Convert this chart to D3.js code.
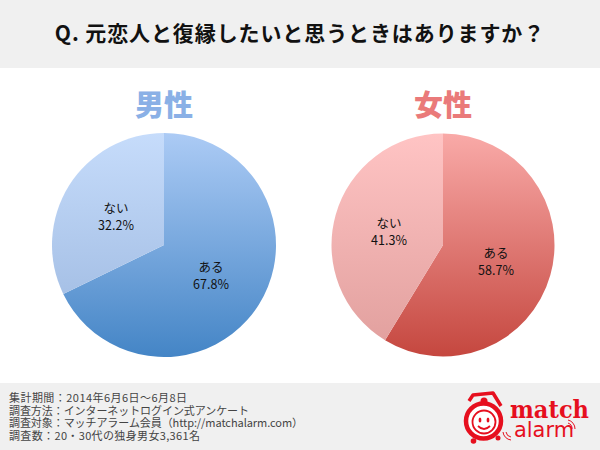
<!DOCTYPE html>
<html>
<head>
<meta charset="utf-8">
<script src="https://cdn.jsdelivr.net/npm/d3@7"></script>
<style>
  html, body { margin: 0; padding: 0; background: #fff; }
  svg { display: block; }
  text { font-family: "Noto Sans CJK JP", sans-serif; }
</style>
</head>
<body>
<div id="chart"></div>
<script>
const titleText = "Q. 元恋人と復縁したいと思うときはありますか？";
const answers = ["ある", "ない"];
const maleValues = [67.8, 32.2];
const femaleValues = [58.7, 41.3];
const noteLines = [
  "集計期間：2014年6月6日〜6月8日",
  "調査方法：インターネットログイン式アンケート",
  "調査対象：マッチアラーム会員（http://matchalarm.com）",
  "調査数：20・30代の独身男女3,361名"
];
const noteWidths = [178, 240, 294, 191];

const width = 600, height = 450;
const svg = d3.select("#chart").append("svg")
  .attr("width", width)
  .attr("height", height);
const defs = svg.append("defs");

// header and footer bands
svg.append("rect").attr("width", width).attr("height", 68).attr("fill", "#f0f0f0");
svg.append("rect").attr("y", 383).attr("width", width).attr("height", 67).attr("fill", "#f0f0f0");

svg.append("text")
  .attr("x", 300).attr("y", 41)
  .attr("text-anchor", "middle")
  .attr("font-size", 21)
  .attr("font-weight", 700)
  .attr("letter-spacing", 0.9)
  .attr("fill", "#111")
  .text(titleText);

function addGradient(id, top, bottom, y1, y2) {
  const g = defs.append("linearGradient")
    .attr("id", id)
    .attr("gradientUnits", "userSpaceOnUse")
    .attr("x1", 0).attr("x2", 0).attr("y1", y1).attr("y2", y2);
  g.append("stop").attr("offset", 0).attr("stop-color", top);
  g.append("stop").attr("offset", 1).attr("stop-color", bottom);
}

const pie = d3.pie().sort(null).value(d => d);

function drawPie(cfg) {
  const g = svg.append("g").attr("transform", `translate(${cfg.cx},${cfg.cy})`);
  const arc = d3.arc().innerRadius(0).outerRadius(cfg.r);
  addGradient(cfg.id + "0", cfg.yesColors[0], cfg.yesColors[1], -cfg.r, cfg.r);
  addGradient(cfg.id + "1", cfg.noColors[0], cfg.noColors[1], -cfg.r, cfg.r);

  g.selectAll("path")
    .data(pie(cfg.values))
    .join("path")
    .attr("d", arc)
    .attr("fill", (d, i) => `url(#${cfg.id}${i})`);

  svg.append("text")
    .attr("x", cfg.cx).attr("y", 116)
    .attr("text-anchor", "middle")
    .attr("font-size", 29)
    .attr("font-weight", 900)
    .attr("fill", cfg.titleColor)
    .text(cfg.title);

  cfg.values.forEach((v, i) => {
    const t = svg.append("text")
      .attr("text-anchor", "middle")
      .attr("font-size", 12.5)
      .attr("fill", "#111");
    t.append("tspan").attr("x", cfg.labels[i][0]).attr("y", cfg.labels[i][1]).text(answers[i]);
    t.append("tspan").attr("x", cfg.labels[i][0]).attr("y", cfg.labels[i][1] + 16.5).text(v.toFixed(1) + "%");
  });
}

drawPie({
  id: "male", title: "男性", titleColor: "#8ab0e6",
  cx: 164, cy: 245, r: 112, values: maleValues,
  yesColors: ["#accbf5", "#4485c6"], noColors: ["#c6dcfb", "#9ab6de"],
  labels: [[211, 272], [116, 213]]
});
drawPie({
  id: "female", title: "女性", titleColor: "#ea7a7a",
  cx: 443, cy: 245, r: 111.5, values: femaleValues,
  yesColors: ["#f9aaa8", "#c5473f"], noColors: ["#ffc4c4", "#e09e9c"],
  labels: [[496, 258], [389, 228]]
});

// survey notes
svg.append("g").selectAll("text")
  .data(noteLines)
  .join("text")
  .attr("x", 9)
  .attr("y", (d, i) => 402 + i * 12.5)
  .attr("font-size", 11)
  .attr("fill", "#444")
  .attr("textLength", (d, i) => noteWidths[i])
  .attr("lengthAdjust", "spacing")
  .text(d => d);

// logo
const red = "#e60f1e";
const logo = svg.append("g").attr("transform", "translate(450,375)");
logo.append("path")
  .attr("d", "M19 26 L23 20 L43 18 L51 31")
  .attr("fill", "none").attr("stroke", red).attr("stroke-width", 3.5).attr("stroke-linejoin", "round");
logo.append("circle").attr("cx", 34).attr("cy", 26).attr("r", 3.5).attr("fill", red);
logo.append("circle").attr("cx", 33.5).attr("cy", 46).attr("r", 17.5)
  .attr("fill", "#fff").attr("stroke", red).attr("stroke-width", 4.5);
logo.append("circle").attr("cx", 34).attr("cy", 47).attr("r", 11.5)
  .attr("fill", "#fff").attr("stroke", red).attr("stroke-width", 1.8);
logo.append("ellipse").attr("cx", 30).attr("cy", 45).attr("rx", 1.4).attr("ry", 2.6).attr("fill", red);
logo.append("ellipse").attr("cx", 38).attr("cy", 45).attr("rx", 1.4).attr("ry", 2.6).attr("fill", red);
logo.append("path").attr("d", "M28 51 Q34 57 40 51")
  .attr("fill", "none").attr("stroke", red).attr("stroke-width", 1.8);
logo.append("circle").attr("cx", 23.5).attr("cy", 66).attr("r", 2.8).attr("fill", red);
logo.append("circle").attr("cx", 48).attr("cy", 63).attr("r", 2.5).attr("fill", red);

logo.append("text").attr("x", 60).attr("y", 43)
  .attr("font-size", 24).attr("font-weight", 700)
  .style("font-family", "'DejaVu Serif', serif")
  .attr("textLength", 79).attr("lengthAdjust", "spacingAndGlyphs")
  .attr("fill", red).text("match");
logo.append("text").attr("x", 64).attr("y", 62)
  .attr("font-size", 22).attr("font-weight", 400)
  .style("font-family", "'DejaVu Sans', sans-serif")
  .attr("textLength", 60).attr("lengthAdjust", "spacingAndGlyphs")
  .attr("fill", red).text("alarm");
[[60, 55, 4], [60, 55, 7]].forEach(d => {
  logo.append("path")
    .attr("d", `M${d[0] - d[2]} ${d[1] + 2} A${d[2] + 2} ${d[2] + 2} 0 0 0 ${d[0] + 1} ${d[1] + d[2] + 3}`)
    .attr("fill", "none").attr("stroke", red).attr("stroke-width", 1);
});
[[118, 50, 4], [118, 50, 7]].forEach(d => {
  logo.append("path")
    .attr("d", `M${d[0]} ${d[1] - d[2] + 2} A${d[2] + 2} ${d[2] + 2} 0 0 1 ${d[0] + d[2]} ${d[1] + 4}`)
    .attr("fill", "none").attr("stroke", red).attr("stroke-width", 1);
});
</script>
</body>
</html>
